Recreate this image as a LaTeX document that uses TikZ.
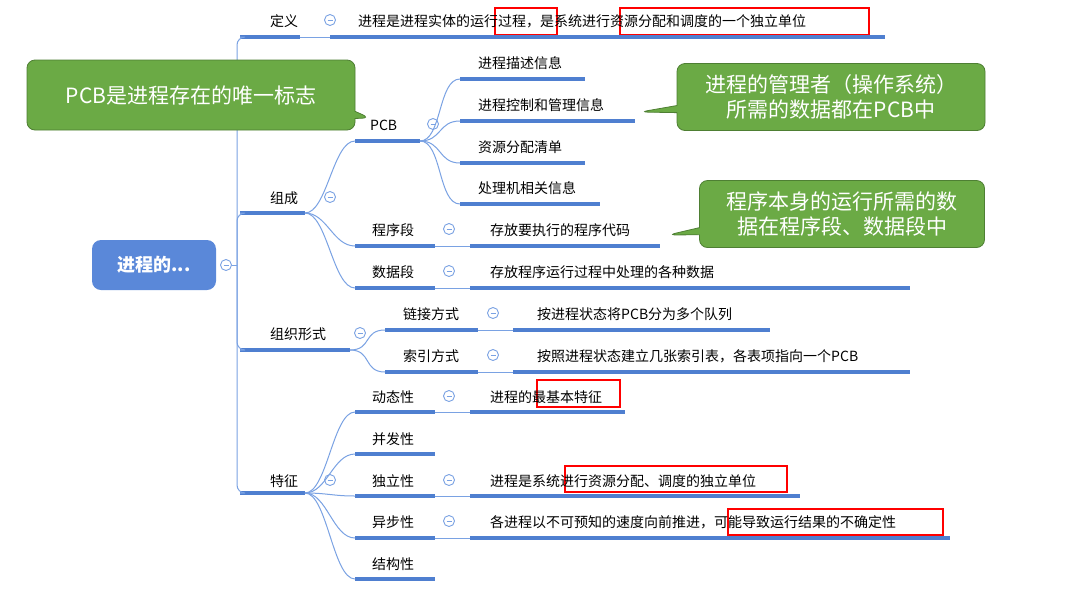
\documentclass[tikz,border=0pt]{standalone}
\usepackage{fontspec}
\setmainfont{Noto Sans CJK SC}
\usetikzlibrary{shapes.callouts}
\definecolor{barc}{HTML}{4F7FD0}
\definecolor{lnc}{HTML}{7AA2E3}
\definecolor{rootc}{HTML}{5A88D9}
\definecolor{gc}{HTML}{6BAA45}
\definecolor{gd}{HTML}{4E7F33}
\tikzset{
  barl/.style={line width=3.5pt,barc},
  conn/.style={lnc,line width=1pt},
  txt/.style={anchor=base west,inner sep=0pt,font=\fontsize{14}{16}\selectfont},
  tog/.style={circle,draw=lnc,line width=0.9pt,fill=white,minimum size=11pt,inner sep=0pt,
     path picture={\draw[lnc,line width=0.9pt] ([xshift=-2.5pt]path picture bounding box.center)--([xshift=2.5pt]path picture bounding box.center);}},
  redb/.style={draw=red,line width=1.6pt},
  callout/.style={rectangle callout,rounded corners=8pt,fill=gc,draw=gd,line width=0.8pt,text=white,align=center,font=\fontsize{21}{25}\selectfont,inner sep=0pt}
}
% \mb{name}{x1}{x2}{y}
\newcommand{\mb}[4]{\coordinate (#1w) at (#2,#4);\coordinate (#1e) at (#3,#4);\draw[barl] (#1w)--(#1e);}
\newcommand{\cv}[2]{\draw[conn] (#1) .. controls ([xshift=22pt]#1) and ([xshift=-22pt]#2) .. (#2);}
\begin{document}
\begin{tikzpicture}[x=1pt,y=-1pt]
\useasboundingbox (0,0) rectangle (1079,598);
\fill[white] (0,0) rectangle (1079,598);
% red boxes behind text
\draw[redb] (495,8) rectangle (557,35);
\draw[redb] (620,8) rectangle (869,35);
\draw[redb] (537,380) rectangle (620,407);
\draw[redb] (565,466) rectangle (787,492);
\draw[redb] (728,509) rectangle (943,535);
% root
\node[fill=rootc,rounded corners=9pt,minimum width=124pt,minimum height=50pt,text=white,font=\fontsize{18}{20}\selectfont\bfseries] (root) at (154,265) {进程的...};
\node[tog] (rt) at (226,265) {};
\coordinate (sp) at (237,265);
% level 1 bars
\mb{dy}{240}{300}{37}
\mb{zc}{240}{305}{213}
\mb{zz}{240}{350}{350}
\mb{tz}{240}{305}{493}
\draw[conn] (rt.east)--(sp);
\foreach \n in {dy,zc,zz,tz}{\draw[conn,rounded corners=8pt] (sp) |- (\n w);}
\node[txt] (tdy) at (270,26) {定义};
\node[txt] (tzc) at (270,203) {组成};
\node[txt] (tzz) at (270,339) {组织形式};
\node[txt] (ttz) at (270,486) {特征};
\node[tog] (cdy) at (330,20) {};
\node[tog] (czc) at (330,197) {};
\node[tog] (czz) at (360,333) {};
\node[tog] (ctz) at (330,480) {};
% definition
\mb{dc}{330}{885}{37}
\draw[conn] (dye)--(dcw);
\node[txt] (tdc) at (358,26) {进程是进程实体的运行过程，是系统进行资源分配和调度的一个独立单位};
% 组成 children
\mb{pcb}{355}{420}{141}
\mb{cx}{355}{435}{246}
\mb{sj}{355}{435}{288}
\foreach \n in {pcb,cx,sj}{\cv{zce}{\n w}}
\node[txt] (tpcb) at (370,130) {PCB};
\node[txt] (tcx) at (372,235) {程序段};
\node[txt] (tsj) at (372,277) {数据段};
\node[tog] (cpcb) at (433,124) {};
\node[tog] (ccx) at (449,229) {};
\node[tog] (csj) at (449,271) {};
% PCB children
\mb{p1}{460}{585}{79}
\mb{p2}{460}{635}{121}
\mb{p3}{460}{585}{163}
\mb{p4}{460}{600}{204}
\foreach \n in {p1,p2,p3,p4}{\cv{pcbe}{\n w}}
\node[txt] (tp1) at (478,68) {进程描述信息};
\node[txt] (tp2) at (478,110) {进程控制和管理信息};
\node[txt] (tp3) at (478,152) {资源分配清单};
\node[txt] (tp4) at (478,193) {处理机相关信息};
\mb{cxc}{470}{660}{246}
\mb{sjc}{470}{910}{288}
\draw[conn] (cxe)--(cxcw); \draw[conn] (sje)--(sjcw);
\node[txt] (tcxc) at (490,235) {存放要执行的程序代码};
\node[txt] (tsjc) at (490,277) {存放程序运行过程中处理的各种数据};
% 组织形式
\mb{lj}{385}{478}{330}
\mb{sy}{385}{478}{372}
\foreach \n in {lj,sy}{\cv{zze}{\n w}}
\node[txt] (tlj) at (403,319) {链接方式};
\node[txt] (tsy) at (403,361) {索引方式};
\node[tog] (clj) at (493,313) {};
\node[tog] (csy) at (493,355) {};
\mb{ljc}{513}{770}{330}
\mb{syc}{513}{910}{372}
\draw[conn] (lje)--(ljcw); \draw[conn] (sye)--(sycw);
\node[txt] (tljc) at (537,319) {按进程状态将PCB分为多个队列};
\node[txt] (tsyc) at (537,361) {按照进程状态建立几张索引表，各表项指向一个PCB};
% 特征
\mb{f1}{355}{435}{412}
\mb{f2}{355}{435}{454}
\mb{f3}{355}{435}{496}
\mb{f4}{355}{435}{538}
\mb{f5}{355}{435}{579}
\foreach \n in {f1,f2,f3,f4,f5}{\cv{tze}{\n w}}
\node[txt] (tf1) at (372,402) {动态性};
\node[txt] (tf2) at (372,444) {并发性};
\node[txt] (tf3) at (372,486) {独立性};
\node[txt] (tf4) at (372,527) {异步性};
\node[txt] (tf5) at (372,569) {结构性};
\node[tog] (cf1) at (449,396) {};
\node[tog] (cf3) at (449,480) {};
\node[tog] (cf4) at (449,521) {};
\mb{f1c}{470}{625}{412}
\mb{f3c}{470}{800}{496}
\mb{f4c}{470}{950}{538}
\draw[conn] (f1e)--(f1cw); \draw[conn] (f3e)--(f3cw); \draw[conn] (f4e)--(f4cw);
\node[txt] (tf1c) at (490,402) {进程的最基本特征};
\node[txt] (tf3c) at (490,486) {进程是系统进行资源分配、调度的独立单位};
\node[txt] (tf4c) at (490,527) {各进程以不可预知的速度向前推进，可能导致运行结果的不确定性};
% callouts
\node[callout,minimum width=328pt,minimum height=70pt,callout absolute pointer={(370,118)}] (co1) at (191,95) {PCB是进程存在的唯一标志};
\node[callout,minimum width=308pt,minimum height=67pt,callout absolute pointer={(640,112)}] (co2) at (831,97) {进程的管理者（操作系统）\\所需的数据都在PCB中};
\node[callout,minimum width=285pt,minimum height=67pt,callout absolute pointer={(668,235)}] (co3) at (842,214) {程序本身的运行所需的数\\据在程序段、数据段中};
\end{tikzpicture}
\end{document}
